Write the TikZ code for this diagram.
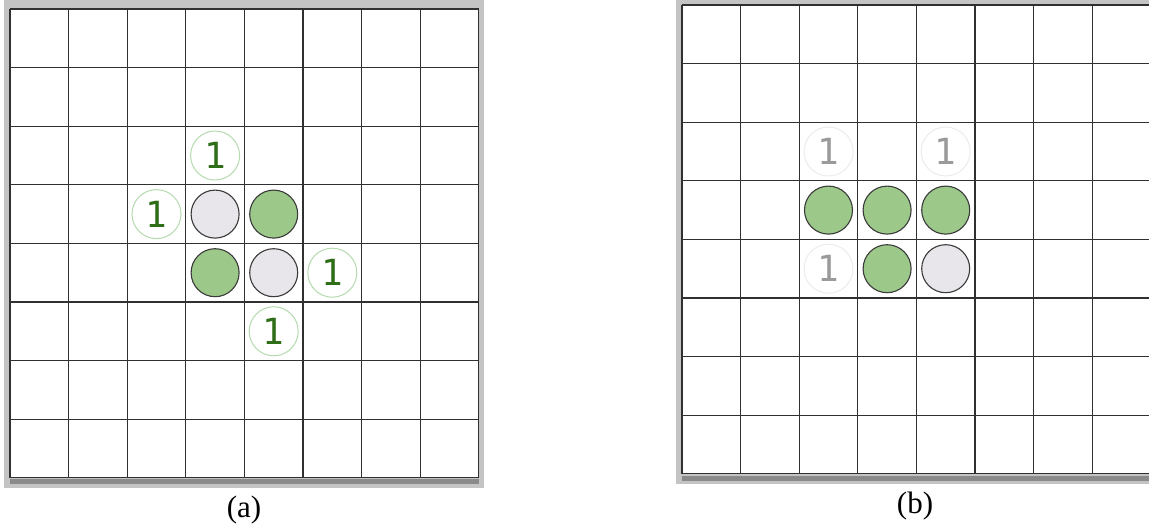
\documentclass[tikz,border=0pt]{standalone}
\usepackage{fontspec}
\setmainfont{Liberation Serif}
\newfontfamily\hintfont{DejaVu Sans Mono}
\usepackage{xcolor}
\definecolor{frame-gray}{HTML}{C4C4C4}
\definecolor{shadow-gray}{HTML}{8A8A8A}
\definecolor{grid-line}{HTML}{303030}
\definecolor{stone-edge}{HTML}{3A3A3A}
\definecolor{stone-green}{HTML}{9CC98A}
\definecolor{stone-gray}{HTML}{E8E6EA}
\definecolor{hint-green}{HTML}{B4DBAE}
\definecolor{digit-green}{HTML}{2D6E17}
\definecolor{hint-faint}{HTML}{ECECEC}
\definecolor{digit-gray}{HTML}{9A9A9A}

\begin{document}
\begin{tikzpicture}[x=1pt, y=1pt,
        every node/.style={inner sep=0pt},
        board/.style={x=58.6pt, y=-58.6pt},
        gridline/.style={draw=grid-line, line width=1.35pt},
        stone/.style={circle, draw=stone-edge, line width=1.1pt,
            minimum size=48pt},
        hint/.style={circle, draw=hint-green, fill=white, line width=1pt,
            minimum size=49pt, text=digit-green,
            font=\hintfont\fontsize{36}{36}\selectfont},
        oldhint/.style={hint, draw=hint-faint, text=digit-gray},
        caption/.style={anchor=base, font=\fontsize{31}{31}\selectfont}]
      \useasboundingbox (0,0) rectangle (1149,-524);
      \clip (0,0) rectangle (1149,-524);

      % board (a)
      \fill[frame-gray] (4,0) rectangle (484,-488);
      \fill[shadow-gray] (10,-479) rectangle (479,-484);
      \begin{scope}[shift={(10,-9)}, board]
        \fill[white] (0,0) rectangle (8,8);
        \foreach \i in {0,...,8} {
          \draw[gridline] (\i,0) -- (\i,8);
          \draw[gridline] (0,\i) -- (8,\i);
        }
        \foreach \c/\r [count=\n] in {3/3, 4/4}
          \node[stone, fill=stone-gray] (a-gray-\n) at (\c+0.5,\r+0.5) {};
        \foreach \c/\r [count=\n] in {4/3, 3/4}
          \node[stone, fill=stone-green] (a-green-\n) at (\c+0.5,\r+0.5) {};
        \foreach \c/\r [count=\n] in {3/2, 2/3, 5/4, 4/5}
          \node[hint] (a-hint-\n) at (\c+0.5,\r+0.5) {1};
      \end{scope}
      \node[caption] (cap-a) at (244,-517) {(a)};

      % board (b)
      \fill[frame-gray] (676,0) rectangle (1160,-484);
      \fill[shadow-gray] (682,-476) rectangle (1160,-481);
      \begin{scope}[shift={(682,-5)}, board]
        \fill[white] (0,0) rectangle (8,8);
        \foreach \i in {0,...,8} {
          \draw[gridline] (\i,0) -- (\i,8);
          \draw[gridline] (0,\i) -- (8,\i);
        }
        \foreach \c/\r [count=\n] in {4/4}
          \node[stone, fill=stone-gray] (b-gray-\n) at (\c+0.5,\r+0.5) {};
        \foreach \c/\r [count=\n] in {2/3, 3/3, 4/3, 3/4}
          \node[stone, fill=stone-green] (b-green-\n) at (\c+0.5,\r+0.5) {};
        \foreach \c/\r [count=\n] in {2/2, 4/2, 2/4}
          \node[oldhint] (b-hint-\n) at (\c+0.5,\r+0.5) {1};
      \end{scope}
      \node[caption] (cap-b) at (915,-513) {(b)};
\end{tikzpicture}
\end{document}
